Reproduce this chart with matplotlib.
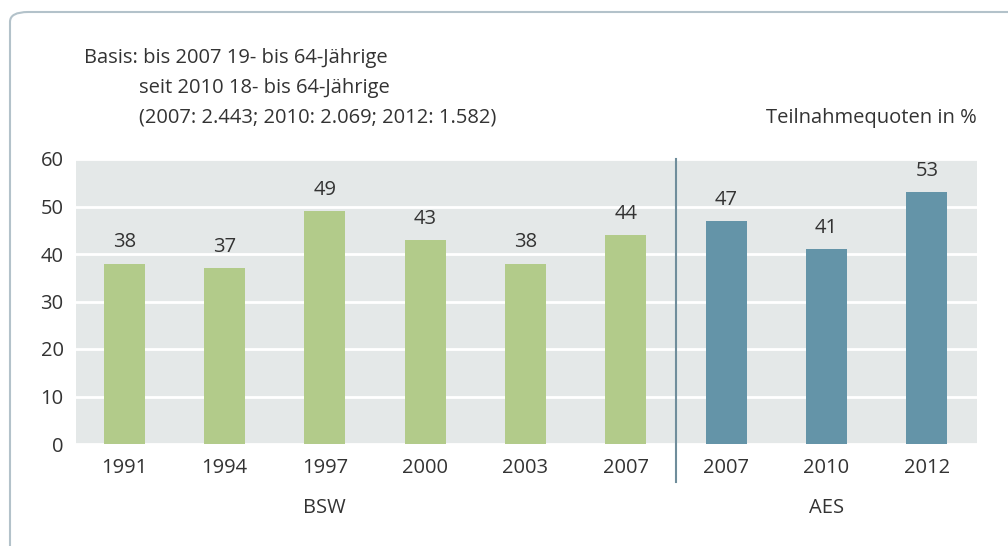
import matplotlib
matplotlib.use("Agg")
import matplotlib.pyplot as plt
from matplotlib.patches import FancyBboxPatch

plt.rcParams['font.family'] = ['Open Sans', 'DejaVu Sans']

# --- data ---------------------------------------------------------------
years = ["1991", "1994", "1997", "2000", "2003", "2007", "2007", "2010", "2012"]
values = [38, 37, 49, 43, 38, 44, 47, 41, 53]
series = ["BSW"] * 6 + ["AES"] * 3
group_labels = ["BSW", "AES"]
yticks = [0, 10, 20, 30, 40, 50, 60]

colors = {"BSW": "#b2cb8a", "AES": "#6494a8"}
text_col = "#333333"
fs = 14.5

fig = plt.figure(figsize=(10.08, 5.46), dpi=100)

# outer rounded frame (runs off the right and bottom edge)
frame = FancyBboxPatch((10 / 1008, -0.2), 1.2, (546 - 12) / 546 + 0.2,
                       boxstyle="round,pad=0,rounding_size=0.018",
                       transform=fig.transFigure, fill=False,
                       edgecolor="#b3c2ca", linewidth=1.5, clip_on=False)
fig.patches.append(frame)

ax = fig.add_axes([76 / 1008, 1 - 444 / 546, (977 - 76) / 1008, (444 - 159) / 546])
ax.set_facecolor("#e4e8e8")
x = list(range(len(values)))
ax.bar(x, values, width=0.41, color=[colors[s] for s in series], zorder=3)
ax.set_xlim(-0.48, 8.5)
ax.set_ylim(0, 60)
ax.set_yticks(yticks)
ax.yaxis.grid(True, color="white", linewidth=2, zorder=1)
ax.set_axisbelow(True)
for s in ax.spines.values():
    s.set_visible(False)
ax.tick_params(length=0, labelsize=fs, colors=text_col, pad=9)
ax.tick_params(axis="x", pad=10)
ax.set_xticks(x)
ax.set_xticklabels(years)

for xi, v in zip(x, values):
    ax.annotate(str(v), (xi, v), xytext=(0, 8), textcoords="offset points",
                ha="center", va="bottom", fontsize=fs, color=text_col)

# separator between the two surveys
ax.plot([5.5, 5.5], [-8, 60], color="#6f8d9b", linewidth=1.5, clip_on=False, zorder=4)

# group labels
ax.text(2, -13.5, group_labels[0], ha="center", va="center", fontsize=fs, color=text_col)
ax.text(7, -13.5, group_labels[1], ha="center", va="center", fontsize=fs, color=text_col)

# header notes
fig.text(84 / 1008, 1 - 58 / 546, "Basis: bis 2007 19- bis 64-Jährige",
         ha="left", va="center", fontsize=fs, color=text_col)
fig.text(139 / 1008, 1 - 88 / 546, "seit 2010 18- bis 64-Jährige",
         ha="left", va="center", fontsize=fs, color=text_col)
fig.text(139 / 1008, 1 - 118 / 546, "(2007: 2.443; 2010: 2.069; 2012: 1.582)",
         ha="left", va="center", fontsize=fs, color=text_col)
fig.text(977 / 1008, 1 - 118 / 546, "Teilnahmequoten in %",
         ha="right", va="center", fontsize=fs, color=text_col)

fig.savefig("out.png", dpi=100)
